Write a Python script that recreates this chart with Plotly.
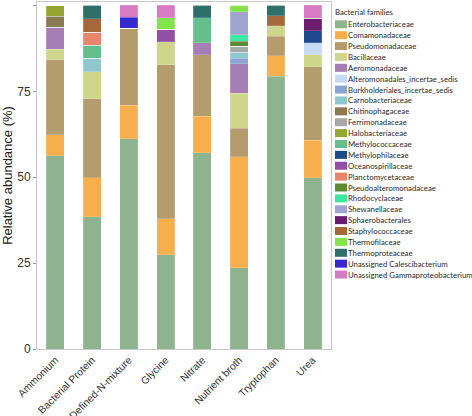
import plotly.graph_objects as go

categories = ["Ammonium", "Bacterial Protein", "Defined-N-mixture", "Glycine",
              "Nitrate", "Nutrient broth", "Tryptophan", "Urea"]

families = ["Enterobacteriaceae", "Comamonadaceae", "Pseudomonadaceae", "Bacillaceae",
            "Aeromonadaceae", "Alteromonadales_incertae_sedis", "Burkholderiales_incertae_sedis",
            "Carnobacteriaceae", "Chitinophagaceae", "Ferrimonadaceae", "Halobacteriaceae",
            "Methylococcaceae", "Methylophilaceae", "Oceanospirillaceae", "Planctomycetaceae",
            "Pseudoalteromonadaceae", "Rhodocyclaceae", "Shewanellaceae", "Sphaerobacterales",
            "Staphylococcaceae", "Thermofilaceae", "Thermoproteaceae",
            "Unassigned Calescibacterium", "Unassigned Gammaproteobacterium"]

colors = ["#8DB48E", "#F7AE4D", "#B59C6C", "#CDD68A", "#A67DB5", "#C6DBF3", "#8AA4D0",
          "#8EC8CE", "#8B7B55", "#A8A8A8", "#96A632", "#66BE8C", "#1F4A8E", "#9150A5",
          "#E8866D", "#5C8A34", "#3EE8A2", "#A0A5D0", "#6C1C70", "#A5683A", "#84E34B",
          "#2F6F6A", "#3529D0", "#D77BC3"]

# values per sample, aligned with `families`
ammonium          = [56.2, 6.2, 21.8, 3.0, 6.5, 0, 0, 0, 3.2, 0, 3.1, 0, 0, 0, 0, 0, 0, 0, 0, 0, 0, 0, 0, 0]
bacterial_protein = [38.5, 11.4, 23.0, 7.8, 0, 0, 0, 3.9, 0, 0, 0, 3.8, 0, 0, 3.8, 0, 0, 0, 0, 3.9, 0, 3.9, 0, 0]
defined_n_mixture = [61.2, 9.7, 22.4, 0, 0, 0, 0, 0, 0, 0, 0, 0, 0, 0, 0, 0, 0, 0, 0, 0, 0, 0, 3.3, 3.4]
glycine           = [27.5, 10.4, 44.8, 6.8, 0, 0, 0, 0, 0, 0, 0, 0, 0, 3.5, 0, 0, 0, 0, 0, 0, 3.4, 0, 0, 3.6]
nitrate           = [57.1, 10.7, 17.9, 0, 3.4, 0, 0, 0, 0, 0, 0, 7.3, 0, 0, 0, 0, 0, 0, 0, 0, 0, 3.6, 0, 0]
nutrient_broth    = [23.6, 32.3, 8.4, 10.2, 8.5, 0, 1.7, 1.7, 0, 1.7, 0, 0, 0, 0, 0, 1.5, 1.8, 6.7, 0, 0, 1.9, 0, 0, 0]
tryptophan        = [79.4, 5.9, 5.8, 3.0, 0, 0, 0, 0, 0, 0, 0, 0, 0, 0, 0, 0, 0, 0, 0, 2.9, 0, 3.0, 0, 0]
urea              = [49.9, 10.8, 21.4, 3.5, 0, 3.6, 0, 0, 0, 0, 0, 0, 3.5, 0, 0, 0, 0, 0, 3.6, 0, 0, 0, 0, 3.7]

samples = [ammonium, bacterial_protein, defined_n_mixture, glycine,
           nitrate, nutrient_broth, tryptophan, urea]

y_ticks = [0, 25, 50, 75, 100]

fig = go.Figure()
for i, fam in enumerate(families):
    fig.add_trace(go.Bar(
        x=categories, y=[s[i] for s in samples], name=fam,
        marker=dict(color=colors[i], line=dict(width=0.5, color="rgba(255,255,255,0.35)")),
        showlegend=False, hoverinfo="skip",
    ))

# Manual compact legend (paper coordinates)
W, H = 472, 416
ml, mr, mt, mb = 37, 141, 2, 67
pw = W - ml - mr
ph = H - mt - mb


def px_x(x):
    return (x - ml) / pw


def px_y(y):
    return (H - mb - y) / ph


LEG_FONT = dict(family="Lato", size=7.8, color="#2b2b2b")
annotations = [dict(xref="paper", yref="paper", x=px_x(333), y=px_y(11.5), text="Bacterial families",
                    showarrow=False, xanchor="left", yanchor="middle",
                    font=LEG_FONT)]
shapes = []
y0 = 24.3
step = 10.88
for i, fam in enumerate(families):
    yc = y0 + i * step
    shapes.append(dict(type="rect", xref="paper", yref="paper",
                       x0=px_x(335), x1=px_x(347), y0=px_y(yc - 4), y1=px_y(yc + 4),
                       fillcolor=colors[i], line=dict(width=0)))
    annotations.append(dict(xref="paper", yref="paper", x=px_x(346), y=px_y(yc), text=fam,
                            showarrow=False, xanchor="left", yanchor="middle",
                            font=LEG_FONT))

fig.update_layout(
    barmode="stack",
    bargap=0.51,
    width=W, height=H,
    margin=dict(l=ml, r=mr, t=mt, b=mb),
    plot_bgcolor="white", paper_bgcolor="white",
    font=dict(family="Liberation Sans, Arial, sans-serif", color="#333333"),
    annotations=annotations,
    shapes=shapes,
)
fig.update_xaxes(showline=True, linecolor="#C8C8C8", linewidth=1, mirror=True, automargin=False,
                 tickangle=-45, tickfont=dict(size=10.3, color="#333333"), ticks="")
fig.update_yaxes(range=[0, 101], tickvals=y_ticks, showgrid=False, zeroline=False, automargin=False,
                 showline=True, linecolor="#C8C8C8", linewidth=1, mirror=True,
                 ticks="outside", ticklen=3, tickcolor="#999999",
                 tickfont=dict(size=12, color="#333333"),
                 title=dict(text="Relative abundance (%)", font=dict(size=13, color="#222222"), standoff=5))

fig.write_html("out.html", config={"displayModeBar": False},
               post_script="document.body.style.margin='0';document.body.style.overflow='hidden';")
